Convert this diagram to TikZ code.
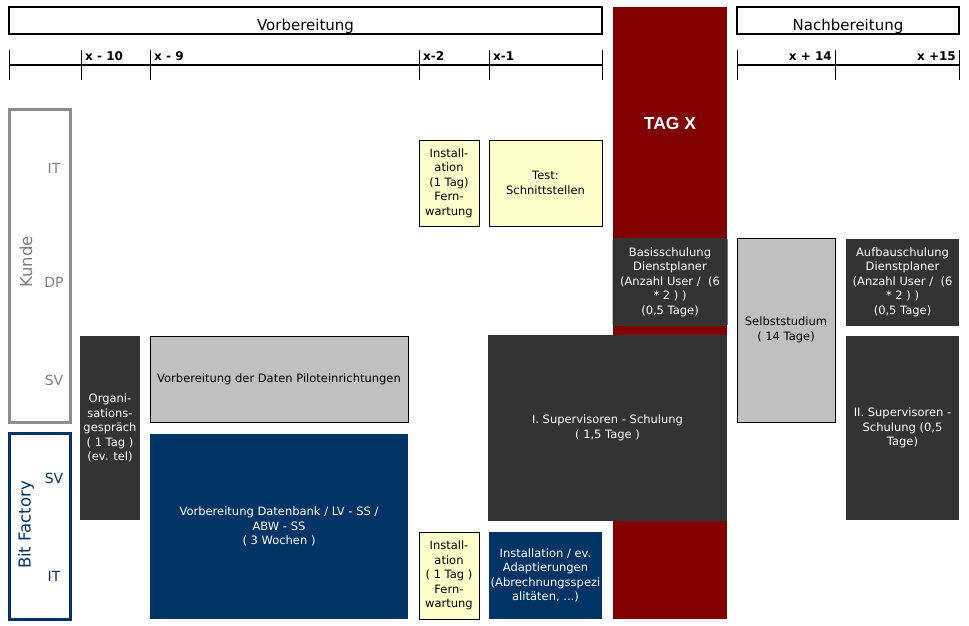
\documentclass[tikz,border=0pt]{standalone}
\usepackage{fontspec}
\setmainfont{DejaVu Sans}
\newfontfamily\arialfont{Liberation Sans}
\definecolor{dgray}{HTML}{333333}
\definecolor{navy}{HTML}{003366}
\definecolor{maroon}{HTML}{800000}
\definecolor{lyellow}{HTML}{FFFFCC}
\definecolor{lgray}{HTML}{C0C0C0}
\definecolor{kgray}{HTML}{8C8C8C}
\definecolor{ktext}{HTML}{808080}
\begin{document}
\begin{tikzpicture}[x=1pt,y=-1pt,
  box/.style={inner sep=0pt, outer sep=0pt, align=center, font=\fontsize{11.5}{14.5}\selectfont},
  darkbox/.style={box, fill=dgray, text=white},
  navybox/.style={box, fill=navy, text=white},
  yellowbox/.style={box, fill=lyellow, draw=black, line width=1pt},
  graybox/.style={box, fill=lgray, draw=black, line width=1pt},
  headbox/.style={inner sep=0pt, outer sep=0pt, draw=black, line width=2pt},
  headtext/.style={inner sep=0pt, anchor=base, font=\fontsize{15}{17}\selectfont},
  tick/.style={line width=1pt, black},
  axis/.style={line width=2pt, black},
  ticklabel/.style={inner sep=0pt, font=\bfseries\fontsize{12}{14}\selectfont},
  lanebox/.style={inner sep=0pt, outer sep=0pt, line width=3pt},
  lanelabel/.style={inner sep=0pt, font=\fontsize{14}{16}\selectfont},
  lanetitle/.style={inner sep=0pt, rotate=90, font=\fontsize{16.5}{18}\selectfont}
]
\useasboundingbox[fill=white] (0,0) rectangle (969,626);

% headers
\node[headbox, minimum width=593, minimum height=27] (vorb) at (305.5,20.5) {};
\node[headtext] (vorbt) at (305.5,31) {Vorbereitung};
\node[headbox, minimum width=222, minimum height=27] (nachb) at (848,20.5) {};
\node[headtext] (nachbt) at (848,31) {Nachbereitung};

% left timeline
\coordinate (la) at (9,65);
\coordinate (lb) at (602,65);
\draw[axis] (la) -- (lb);
\foreach \xx/\nm in {9/t0,81/t1,150/t2,419/t3,489/t4,602/t5}{
  \coordinate (\nm a) at (\xx,50);
  \coordinate (\nm b) at (\xx,80);
  \draw[tick] (\nm a) -- (\nm b);
}
\node[ticklabel, anchor=base west] (l10) at (85,61) {x - 10};
\node[ticklabel, anchor=base west] (l9) at (154,61) {x - 9};
\node[ticklabel, anchor=base west] (l2) at (423,61) {x-2};
\node[ticklabel, anchor=base west] (l1) at (493,61) {x-1};

% right timeline
\coordinate (ra) at (737,65);
\coordinate (rb) at (959,65);
\draw[axis] (ra) -- (rb);
\foreach \xx/\nm in {737/r0,835/r1,959/r2}{
  \coordinate (\nm a) at (\xx,50);
  \coordinate (\nm b) at (\xx,80);
  \draw[tick] (\nm a) -- (\nm b);
}
\node[ticklabel, anchor=base east] (l14) at (832,61) {x + 14};
\node[ticklabel, anchor=base east] (l15) at (956,61) {x +15};

% TAG X column
\node[inner sep=0pt, outer sep=0pt, fill=maroon, minimum width=114, minimum height=612] (tagcol) at (670,313) {};
\node[inner sep=0pt, text=white, font=\arialfont\bfseries\fontsize{17.5}{20}\selectfont] (tagx) at (670,123) {TAG X};

% lanes
\node[lanebox, draw=kgray, minimum width=61, minimum height=313] (kunde) at (39.5,265.5) {};
\node[lanetitle, text=ktext] (kundet) at (26,262) {Kunde};
\node[lanelabel, text=ktext] (kit) at (54,168) {IT};
\node[lanelabel, text=ktext] (kdp) at (54,282) {DP};
\node[lanelabel, text=ktext] (ksv) at (54,380) {SV};

\node[lanebox, draw=navy, minimum width=61, minimum height=186] (bitf) at (39.5,526) {};
\node[lanetitle, text=navy] (bitft) at (26,525) {Bit Factory};
\node[lanelabel, text=navy] (bsv) at (54,478) {SV};
\node[lanelabel, text=navy] (bit) at (54,576) {IT};

% boxes
\node[darkbox, minimum width=60, minimum height=184] (org) at (110,428)
  {Organi-\\sations-\\gespräch\\( 1 Tag )\\(ev. tel)};
\node[graybox, minimum width=258, minimum height=86] (vdp) at (279,379)
  {Vorbereitung der Daten Piloteinrichtungen};
\node[navybox, minimum width=258, minimum height=185] (vdb) at (279,526.5)
  {Vorbereitung Datenbank / LV - SS /\\ABW - SS\\( 3 Wochen )};
\node[yellowbox, minimum width=60, minimum height=86] (inst1) at (449,183)
  {Install-\\ation\\(1 Tag)\\Fern-\\wartung};
\node[yellowbox, minimum width=113, minimum height=86] (test) at (545.5,183)
  {Test:\\Schnittstellen};
\node[darkbox, minimum width=115, minimum height=88, rounded corners=1.5pt] (basis) at (670,282)
  {Basisschulung\\Dienstplaner\\(Anzahl User /~~(6\\* 2 ) )\\(0,5 Tage)};
\node[graybox, minimum width=98, minimum height=184] (selbst) at (786,330)
  {Selbststudium\\( 14 Tage)};
\node[darkbox, minimum width=113, minimum height=87] (aufbau) at (902.5,282)
  {Aufbauschulung\\Dienstplaner\\(Anzahl User /~~(6\\* 2 ) )\\(0,5 Tage)};
\node[darkbox, minimum width=113, minimum height=184] (sv2) at (902.5,428)
  {II. Supervisoren -\\Schulung (0,5\\Tage)};
\node[darkbox, minimum width=239, minimum height=186] (sv1) at (607.5,428)
  {I. Supervisoren - Schulung\\( 1,5 Tage )};
\node[yellowbox, minimum width=60, minimum height=87] (inst2) at (449,575.5)
  {Install-\\ation\\( 1 Tag )\\Fern-\\wartung};
\node[navybox, minimum width=113, minimum height=87] (adapt) at (545.5,575.5)
  {Installation / ev.\\Adaptierungen\\(Abrechnungsspezi\\alitäten, ...)};
\end{tikzpicture}
\end{document}
